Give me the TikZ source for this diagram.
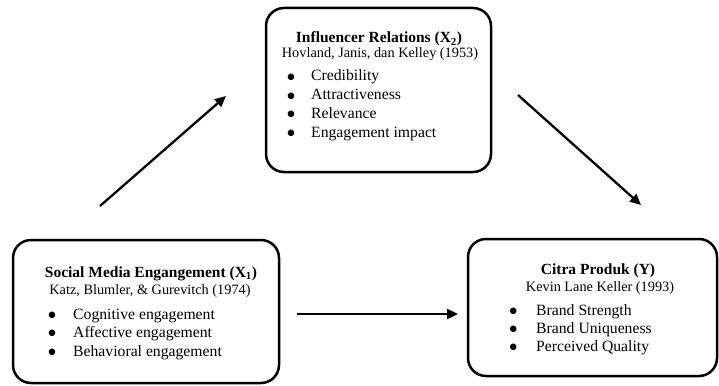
\documentclass[tikz,border=0pt]{standalone}
\usepackage{fontspec}
\setmainfont{Liberation Serif}
\newfontfamily\symfnt{DejaVu Sans}
\usetikzlibrary{arrows.meta}
\newcommand{\bulitem}[2]{\makebox[0pt][c]{\symfnt\fontsize{8.5}{10}\selectfont\raisebox{1.6pt}{●}}\hspace{#1}#2}
\tikzset{
 box/.style={draw, line width=2.5pt, rounded corners=18pt, inner sep=0pt},
 ttl/.style={anchor=base, inner sep=0pt, font=\fontsize{15.5}{18}\selectfont\bfseries},
 auth/.style={anchor=base, inner sep=0pt, font=\fontsize{14.3}{17}\selectfont},
 itm/.style={anchor=base west, inner sep=0pt, font=\fontsize{15.7}{18}\selectfont},
 conn/.style={line width=2.3pt, -{Triangle[length=11pt,width=10pt]}},
}
\begin{document}
\begin{tikzpicture}[x=1pt,y=-1pt]
\useasboundingbox (0,0) rectangle (719,385);
% boxes
\node[box, minimum width=225pt, minimum height=164pt] (tb) at (378.5,90) {};
\node[box, minimum width=266pt, minimum height=143pt] (lb) at (146,311.5) {};
\node[box, minimum width=249pt, minimum height=137pt] (rb) at (592.5,307.5) {};
% top box text
\node[ttl] (tt) at (379,43) {Influencer Relations (X\textsubscript{2})};
\node[auth] (ta) at (380,57.5) {Hovland, Janis, dan Kelley (1953)};
\node[itm] (ti1) at (291,81) {\bulitem{20pt}{Credibility}};
\node[itm] (ti2) at (291,99.7) {\bulitem{20pt}{Attractiveness}};
\node[itm] (ti3) at (291,118.4) {\bulitem{20pt}{Relevance}};
\node[itm] (ti4) at (291,137) {\bulitem{20pt}{Engagement impact}};
% left box text
\node[ttl] (lt) at (151,277) {Social Media Engangement (X\textsubscript{1})};
\node[auth] (la) at (150,294) {Katz, Blumler, \& Gurevitch (1974)};
\node[itm] (li1) at (52,319) {\bulitem{21pt}{Cognitive engagement}};
\node[itm] (li2) at (52,337.5) {\bulitem{21pt}{Affective engagement}};
\node[itm] (li3) at (52,356) {\bulitem{21pt}{Behavioral engagement}};
% right box text
\node[ttl] (rt) at (598,274) {Citra Produk (Y)};
\node[auth] (ra) at (600,291) {Kevin Lane Keller (1993)};
\node[itm] (ri1) at (513,315) {\bulitem{23pt}{Brand Strength}};
\node[itm] (ri2) at (513,333) {\bulitem{23pt}{Brand Uniqueness}};
\node[itm] (ri3) at (513,351) {\bulitem{23pt}{Perceived Quality}};
% connectors
\coordinate (a1s) at (100,206);
\coordinate (a1e) at (226,96);
\coordinate (a2s) at (518,95);
\coordinate (a2e) at (641,205);
\coordinate (a3s) at (297,314);
\coordinate (a3e) at (458,314);
\draw[conn] (a1s) -- (a1e);
\draw[conn] (a2s) -- (a2e);
\draw[conn] (a3s) -- (a3e);
\end{tikzpicture}
\end{document}
